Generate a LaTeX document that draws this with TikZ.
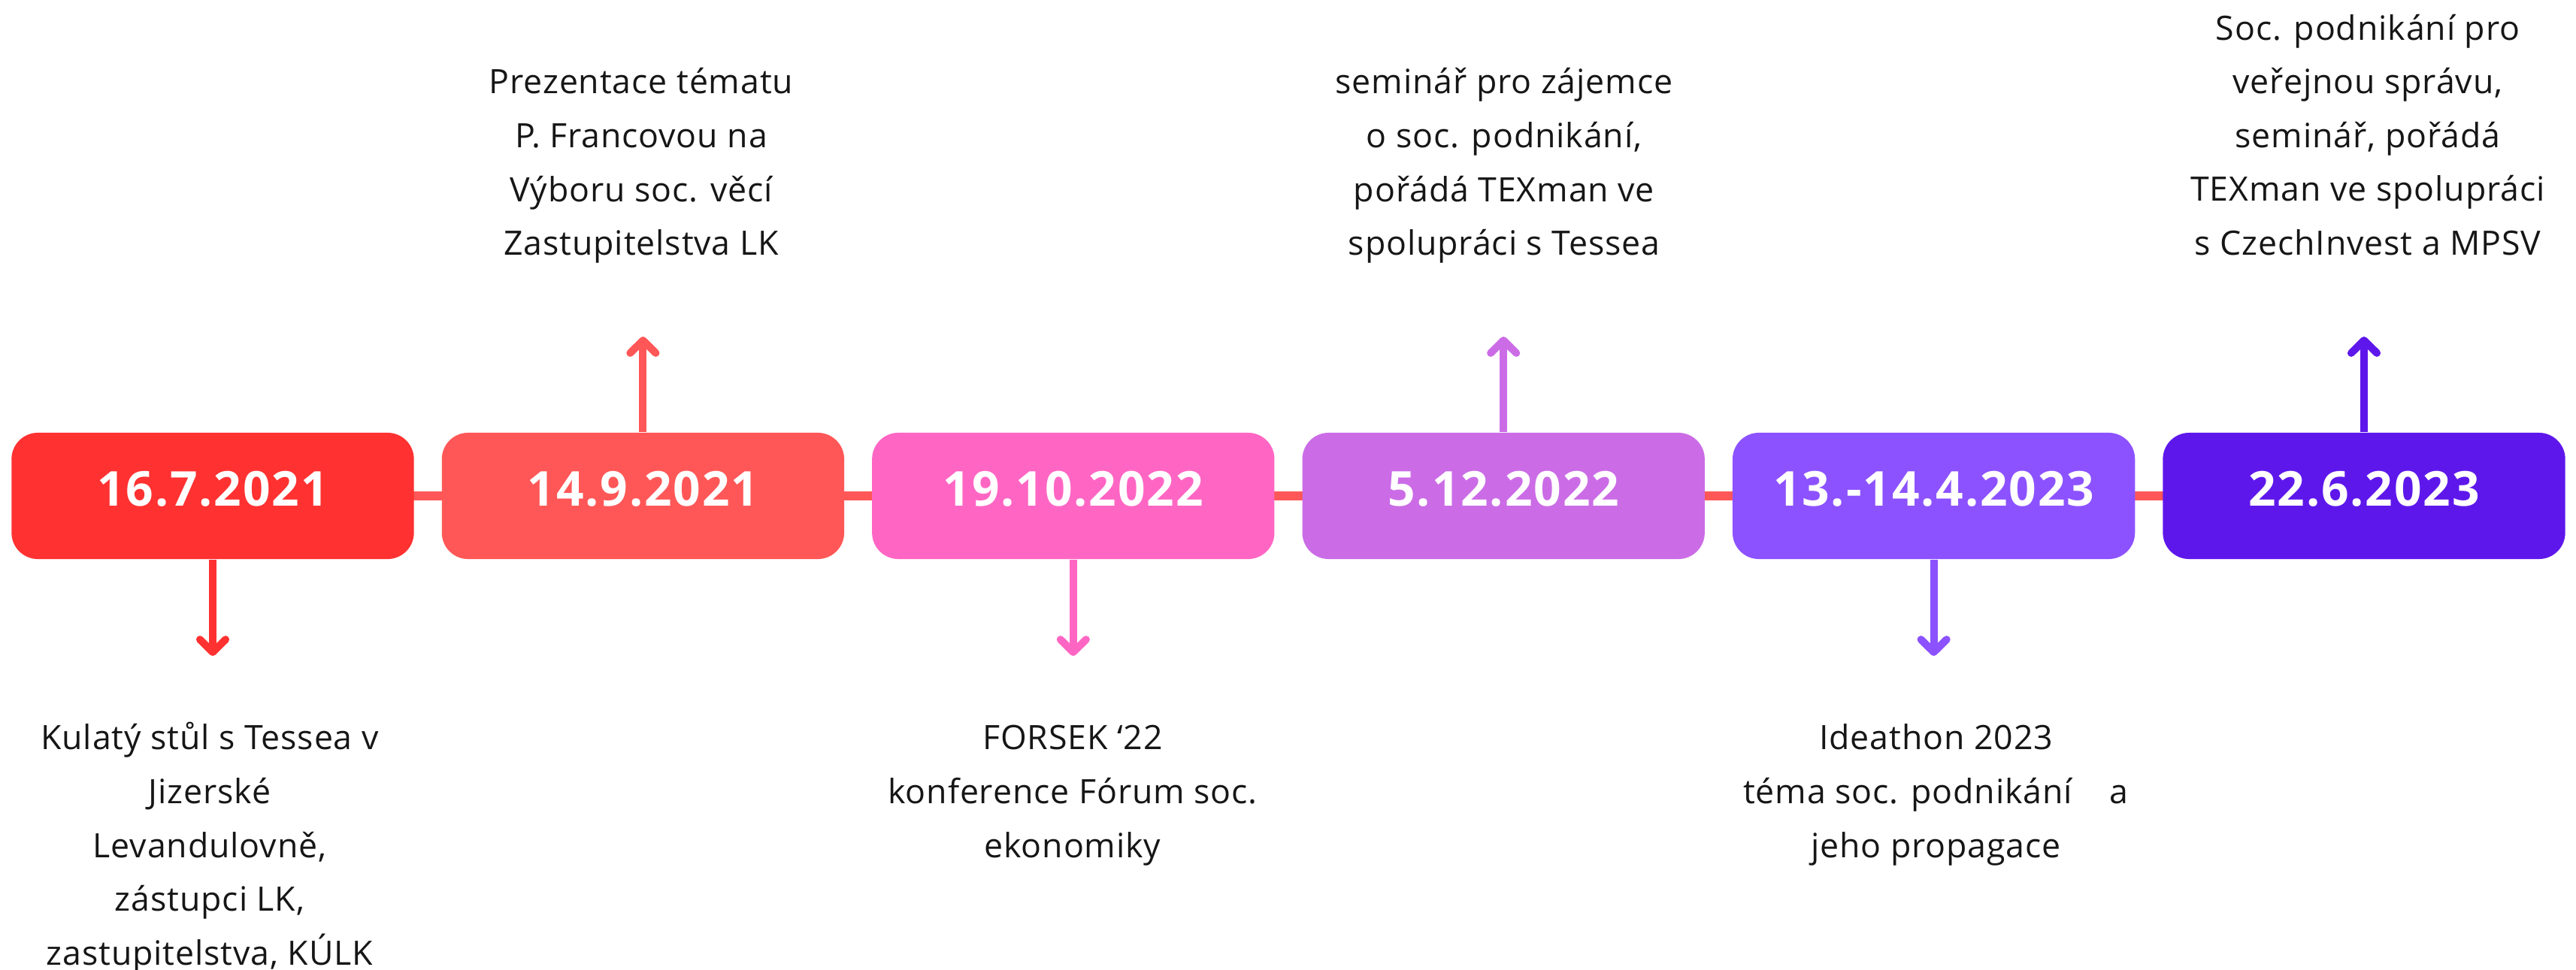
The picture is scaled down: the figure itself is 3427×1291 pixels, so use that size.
\documentclass[tikz,border=0pt]{standalone}
\usepackage{fontspec}
\setmainfont{Open Sans}
\newfontfamily\notefont[LetterSpace=2]{Open Sans}
\newfontfamily\datefont[LetterSpace=3]{Open Sans}
\usetikzlibrary{arrows.meta}
\definecolor{c1}{HTML}{FF3131}
\definecolor{c2}{HTML}{FF5757}
\definecolor{c3}{HTML}{FF66C4}
\definecolor{c4}{HTML}{CB6CE6}
\definecolor{c5}{HTML}{8C52FF}
\definecolor{c6}{HTML}{5E17EB}
\definecolor{linkc}{HTML}{FF5757}
\definecolor{txt}{HTML}{161616}
\newcommand{\firststrut}{\rule{0pt}{14pt}}
\begin{document}
\begin{tikzpicture}[x=0.01cm,y=-0.01cm,
  datebox/.style={fill=#1, rounded corners=0.35cm, minimum width=5.35cm, minimum height=1.68cm,
    inner sep=0pt, text=white, font=\datefont\fontsize{18.2pt}{21pt}\selectfont\bfseries,
    text height=13pt, text depth=5.5pt},
  link/.style={draw=linkc, line width=3.41pt},
  pointer/.style={draw=#1, line width=2.85pt, -{Straight Barb[round, length=4.8pt, width=9.7pt]}},
  note/.style={align=center, inner sep=0pt, anchor=north, text=txt,
    font=\notefont\fontsize{12.7pt}{20.37pt}\selectfont}]
\useasboundingbox (0,0) rectangle (3427,1291);

% links behind the boxes
\coordinate (l1) at (283,660);
\coordinate (l6) at (3145,660);
\draw[link] (l1) -- (l6);

% date boxes
\node[datebox=c1] (b1) at (283,660) {16.7.2021};
\node[datebox=c2] (b2) at (855.4,660) {14.9.2021};
\node[datebox=c3] (b3) at (1427.8,660) {19.10.2022};
\node[datebox=c4] (b4) at (2000.2,660) {5.12.2022};
\node[datebox=c5] (b5) at (2572.6,660) {13.-14.4.2023};
\node[datebox=c6] (b6) at (3145,660) {22.6.2023};

% arrow ends
\coordinate (t1) at (283,873);
\coordinate (t2) at (855.4,448);
\coordinate (t3) at (1427.8,873);
\coordinate (t4) at (2000.2,448);
\coordinate (t5) at (2572.6,873);
\coordinate (t6) at (3145,448);

\draw[pointer=c1] (b1.south) -- (t1);
\draw[pointer=c2] (b2.north) -- (t2);
\draw[pointer=c3] (b3.south) -- (t3);
\draw[pointer=c4] (b4.north) -- (t4);
\draw[pointer=c5] (b5.south) -- (t5);
\draw[pointer=c6] (b6.north) -- (t6);

% notes
\node[note] (n1) at (279,947.8) {\firststrut Kulatý stůl s Tessea v\\Jizerské\\Levandulovně,\\zástupci LK,\\zastupitelstva, KÚLK};
\node[note] (n2) at (853,74.8) {\firststrut Prezentace tématu\\P. Francovou na\\Výboru soc. věcí\\Zastupitelstva LK};
\node[note] (n3) at (1427,947.8) {\firststrut FORSEK ‘22\\konference Fórum soc.\\ekonomiky};
\node[note] (n4) at (2001,74.8) {\firststrut seminář pro zájemce\\o soc. podnikání,\\pořádá TEXman ve\\spolupráci s Tessea};
\node[note] (n5) at (2575.5,947.8) {\firststrut Ideathon 2023\\téma soc. podnikání\ \ \ \ a\\jeho propagace};
\node[note] (n6) at (3150,3.1) {\firststrut Soc. podnikání pro\\veřejnou správu,\\seminář, pořádá\\TEXman ve spolupráci\\s CzechInvest a MPSV};
\end{tikzpicture}
\end{document}
